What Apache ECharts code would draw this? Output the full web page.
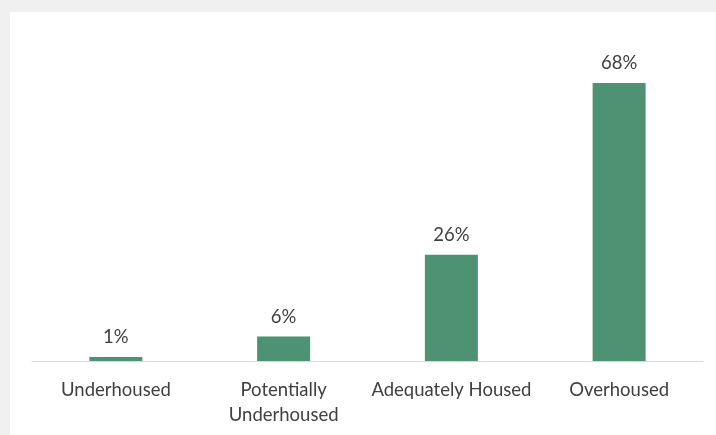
<!DOCTYPE html>
<html>
<head>
<meta charset="utf-8">
<script src="https://cdn.jsdelivr.net/npm/echarts@6/dist/echarts.min.js"></script>
<style>
  html, body { margin: 0; padding: 0; background: #f0f0f0; }
  #chart { position: absolute; left: 10px; top: 12px; width: 706px; height: 423px; background: #fff; }
</style>
</head>
<body>
<div id="chart"></div>
<script>
var categories = ['Underhoused', 'Potentially\nUnderhoused', 'Adequately Housed', 'Overhoused']
var shares = [1, 6, 26, 68]

var chart = echarts.init(document.getElementById('chart'))
chart.setOption({
  animation: false,
  grid: { left: 22, right: 13, top: 71, bottom: 74 },
  xAxis: {
    type: 'category',
    data: categories,
    axisTick: { show: false },
    axisLine: { lineStyle: { color: '#d9d9d9', width: 1 } },
    axisLabel: {
      color: '#404040',
      fontFamily: 'Lato',
      fontSize: 18.5,
      lineHeight: 25,
      margin: 17,
      interval: 0
    }
  },
  yAxis: {
    type: 'value',
    min: 0,
    max: 68,
    show: false,
    splitLine: { show: false }
  },
  series: [{
    type: 'bar',
    data: shares,
    barWidth: 53,
    itemStyle: { color: '#4e9274' },
    label: {
      show: true,
      position: 'top',
      distance: 10,
      formatter: '{c}%',
      color: '#404040',
      fontFamily: 'Lato',
      fontSize: 18.5
    }
  }]
})
</script>
</body>
</html>
